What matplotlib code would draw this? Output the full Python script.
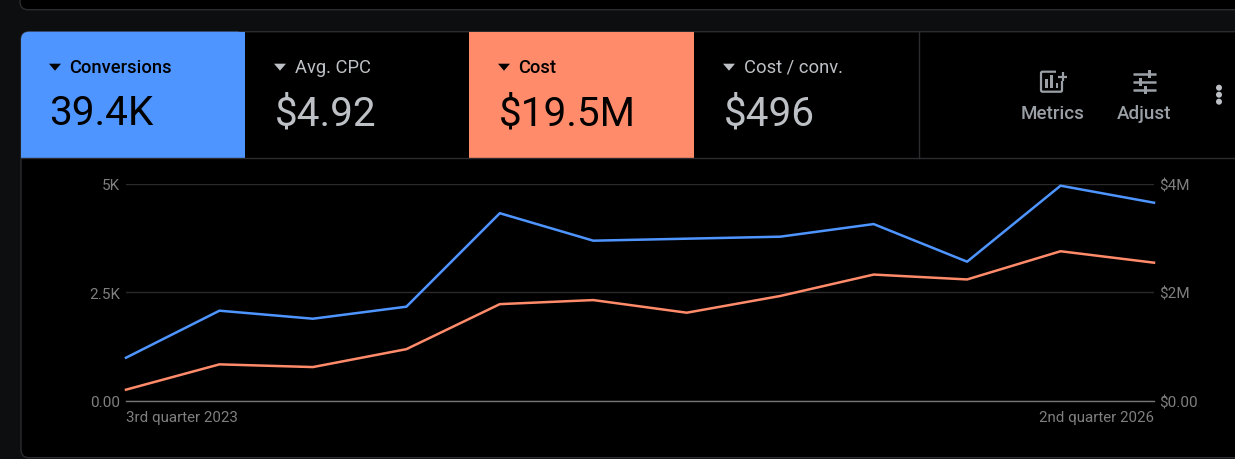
import matplotlib
matplotlib.use("Agg")
import matplotlib.pyplot as plt
from matplotlib.patches import Rectangle, FancyBboxPatch, Polygon, Circle

plt.rcParams['font.family'] = ['Roboto', 'DejaVu Sans']

quarters = list(range(12))
conversions = [990, 2074, 1889, 2166, 4320, 3687, 3733, 3779, 4070, 3203, 4954, 4562]
cost = [203000, 670000, 620000, 950000, 1780000, 1855000, 1622000, 1930000, 2325000, 2235000, 2755000, 2544000]
first_label = "3rd quarter 2023"
last_label = "2nd quarter 2026"
left_ticks = [0, 2500, 5000]
left_labels = ["0.00", "2.5K", "5K"]
right_ticks = [0, 2000000, 4000000]
right_labels = ["$0.00", "$2M", "$4M"]
cards = [("Conversions", "39.4K"), ("Avg. CPC", "$4.92"), ("Cost", "$19.5M"), ("Cost / conv.", "$496")]

W, H = 1235, 460
BLUE, ORANGE = "#4f95ff", "#ff8b6a"
BORDER, GRID = "#2b2c2f", "#2a2a2a"
fig = plt.figure(figsize=(W / 100, H / 100), dpi=100, facecolor="#0d0e10")

bg = fig.add_axes([0, 0, 1, 1], zorder=0)
bg.set_xlim(0, W); bg.set_ylim(H - 0.7, -0.7); bg.axis("off")

bg.add_patch(FancyBboxPatch((20, -40), 1300, 50, boxstyle="round,pad=0,rounding_size=8",
                            fc="black", ec=BORDER, lw=1))
bg.add_patch(FancyBboxPatch((21, 32), 1300, 426, boxstyle="round,pad=0,rounding_size=8",
                            fc="black", ec=BORDER, lw=1))
bg.add_patch(FancyBboxPatch((21, 32), 224, 126, boxstyle="round,pad=0,rounding_size=8",
                            fc=BLUE, ec="none"))
bg.add_patch(Rectangle((21, 60), 224, 98, fc=BLUE, ec="none"))
bg.add_patch(Rectangle((150, 32), 95, 60, fc=BLUE, ec="none"))
bg.add_patch(Rectangle((469, 32), 225, 126, fc=ORANGE, ec="none"))
bg.plot([21, W], [158.5, 158.5], color=BORDER, lw=1)
bg.plot([918.5, 918.5], [32, 158], color=BORDER, lw=1)

card_x = [42, 267, 491, 716]
card_active = [True, False, True, False]
for (name, val), x0, active in zip(cards, card_x, card_active):
    c1 = "black" if active else "#bdc1c6"
    bg.add_patch(Polygon([(x0 + 7, 64), (x0 + 19, 64), (x0 + 13, 71)], fc=c1, ec="none"))
    bg.text(x0 + (27.5 if active else 28), 67, name, color=c1, fontsize=13.2, va="center", ha="left",
            fontweight="medium" if active else "normal")
    bg.text(x0 + (7.5 if active else 8), 113, val, color=c1, fontsize=29.2, va="center", ha="left")

# Toolbar icons
ICON = "#9aa0a6"
bg.add_patch(FancyBboxPatch((1041, 72), 21, 20, boxstyle="round,pad=0,rounding_size=1.5",
                            fc="none", ec=ICON, lw=1.6))
bg.add_patch(Rectangle((1056, 68), 13, 13, fc="black", ec="none"))
for bx, by in [(1045, 79), (1050, 75.5), (1055.5, 83)]:
    bg.add_patch(Rectangle((bx, by), 2.6, 88 - by, fc=ICON, ec="none"))
bg.plot([1058, 1067], [77, 77], color=ICON, lw=1.6, solid_capstyle="butt")
bg.plot([1062.5, 1062.5], [72.5, 81.5], color=ICON, lw=1.6, solid_capstyle="butt")
for y, kx, side in [(74, 1148, -1), (82, 1139, 1), (90, 1144, -1)]:
    bg.plot([1133, 1156], [y, y], color=ICON, lw=1.8, solid_capstyle="butt")
    bg.add_patch(Rectangle((kx, y - 4), 2.6, 8, fc=ICON, ec="none"))
    gap_x = kx - 2.5 if side < 0 else kx + 2.6
    bg.add_patch(Rectangle((gap_x, y - 2), 2.5, 4, fc="black", ec="none"))
bg.text(1053, 113, "Metrics", color=ICON, fontsize=13.5, ha="center", va="center", fontweight="medium")
bg.text(1144, 113, "Adjust", color=ICON, fontsize=13.5, ha="center", va="center", fontweight="medium")
for cy in (88, 95, 102):
    bg.add_patch(Circle((1219, cy), 3, fc="#bdc1c6", ec="none"))

ax = fig.add_axes([126 / W, 1 - 401.7 / H, (1154 - 126) / W, (401.7 - 184.7) / H], zorder=2)
ax.patch.set_alpha(0)
ax.set_xlim(0, 11)
ax.set_ylim(0, 5000)
ax2 = ax.twinx()
ax2.patch.set_alpha(0)
ax2.set_ylim(0, 4000000)

ax.plot(quarters, conversions, color=BLUE, lw=1.8, zorder=5, clip_on=False)
ax2.plot(quarters, cost, color=ORANGE, lw=1.8, zorder=5, clip_on=False)

for a in (ax, ax2):
    for s in a.spines.values():
        s.set_visible(False)
    a.tick_params(length=0, colors="#7f7f7f", labelsize=11, pad=4.5)
ax2.tick_params(pad=3.5)
ax.set_yticks(left_ticks, left_labels)
ax2.set_yticks(right_ticks, right_labels)
ax.grid(axis="y", color=GRID, lw=1)
ax.set_axisbelow(True)
ax.spines["bottom"].set_visible(True)
ax.spines["bottom"].set_color("#757575")
ax.spines["bottom"].set_linewidth(1)
ax.set_xticks([0, 11], [first_label, last_label])
ax.tick_params(axis="x", pad=6.5, labelsize=10.9)
labels = ax.get_xticklabels()
labels[0].set_ha("left")
labels[1].set_ha("right")

fig.savefig("out.png", dpi=100, facecolor=fig.get_facecolor())
